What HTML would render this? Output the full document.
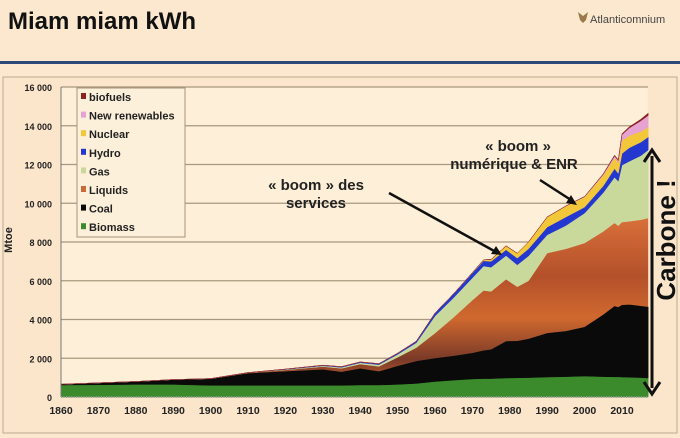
<!DOCTYPE html>
<html><head><meta charset="utf-8"><style>
body{margin:0;width:680px;height:438px;overflow:hidden;background:#fbe8cf;font-family:"Liberation Sans",sans-serif;}
svg{position:absolute;left:0;top:0}
</style></head><body>
<svg id="c" width="680" height="438" viewBox="0 0 680 438">
<defs>
<linearGradient id="liq" x1="0" y1="0" x2="0" y2="1">
<stop offset="0" stop-color="#d8703a"/><stop offset="0.35" stop-color="#b4502a"/><stop offset="0.6" stop-color="#d0692f"/><stop offset="0.85" stop-color="#7a3a28"/><stop offset="1" stop-color="#c9602c"/>
</linearGradient>
</defs>
<text x="8" y="29" font-size="24" font-weight="bold" fill="#111">Miam miam kWh</text>
<g><path d="M578 12 l5 4 l5-4 l-2 8 l-3 3 l-3-3z" fill="#9a7a4a"/><text x="590" y="23" font-size="11" fill="#444">Atlanticomnium</text></g>
<rect x="0" y="61" width="680" height="3" fill="#2c4a78"/>
<rect x="3" y="77" width="674" height="356" fill="#fbe6cb" stroke="#bda98c" stroke-width="1"/>
<rect x="61" y="87" width="587" height="310" fill="#fdefd8"/>
<g id="grid"></g><g id="areas"></g><g id="axes"></g>
<g>
<rect x="77" y="88" width="108" height="149" fill="#fdf0da" stroke="#a8957a"/>
<g id="leg" font-size="11" font-weight="bold" fill="#222"></g>
</g>
<text transform="translate(12,240) rotate(-90)" font-size="11" font-weight="bold" text-anchor="middle" fill="#222">Mtoe</text>
<g>
<text x="316" y="190" font-size="15" font-weight="bold" text-anchor="middle" fill="#222">« boom » des</text>
<text x="316" y="208" font-size="15" font-weight="bold" text-anchor="middle" fill="#222">services</text>
<line x1="389" y1="193" x2="496" y2="252" stroke="#111" stroke-width="2.5"/>
<path d="M502 255 l-11-1 l5-8z" fill="#111"/>
</g>
<g>
<text x="518" y="151" font-size="15" font-weight="bold" text-anchor="middle" fill="#222">« boom »</text>
<text x="514" y="169" font-size="15" font-weight="bold" text-anchor="middle" fill="#222">numérique &amp; ENR</text>
<line x1="540" y1="180" x2="571" y2="200" stroke="#111" stroke-width="2.5"/>
<path d="M577 205 l-11-2 l5-8z" fill="#111"/>
</g>
<g>
<line x1="652" y1="156" x2="652" y2="388" stroke="#111" stroke-width="3"/>
<path d="M644 162 l8-12 l8 12" fill="none" stroke="#111" stroke-width="3"/>
<path d="M644 382 l8 12 l8-12" fill="none" stroke="#111" stroke-width="3"/>
</g>
<text transform="translate(675,240) rotate(-90)" font-size="26" font-weight="bold" text-anchor="middle" fill="#111">Carbone !</text>
<text x="95" y="450" font-size="15" font-weight="bold" fill="#222">Consommation d'énergie dans le monde 1860-2018, d'après J.M. Jancovici 2020</text>
</svg>
<script>
const years=[1860,1870,1880,1890,1900,1910,1920,1930,1935,1940,1945,1950,1955,1960,1965,1970,1973,1975,1979,1982,1985,1990,1995,2000,2005,2008,2009,2010,2012,2015,2017];
const biomass=[620,630,650,650,600,600,600,600,600,620,620,650,700,800,870,930,950,950,980,990,1000,1030,1050,1080,1050,1040,1040,1030,1020,1000,980];
const coal=[40,100,150,250,330,620,720,820,700,850,700,950,1150,1200,1250,1340,1450,1500,1900,1900,2000,2270,2350,2530,3200,3650,3600,3720,3750,3700,3670];
const liquids=[0,0,0,0,20,40,80,150,180,230,260,450,700,1300,2000,2730,3100,3000,3200,2800,3000,4130,4250,4340,4300,4300,4200,4280,4300,4450,4590];
const gas=[0,0,0,0,0,0,20,40,50,70,90,150,250,880,1010,1150,1260,1250,1220,1130,1280,940,1200,1540,2000,2350,2300,2940,3100,3300,3510];
const hydro=[0,0,0,0,0,0,20,30,35,40,50,60,80,150,200,250,270,300,300,350,370,400,440,310,350,450,400,600,700,700,670];
const nuclear=[0,0,0,0,0,0,0,0,0,0,0,0,0,0,5,20,50,100,200,250,350,520,560,520,550,550,550,670,620,550,510];
const newren=[0,0,0,0,0,0,0,0,0,0,0,0,0,0,0,0,0,0,0,0,0,0,10,20,50,100,110,300,400,550,600];
const biofuels=[0,0,0,0,0,0,0,0,0,0,0,0,0,0,0,0,0,0,0,0,0,0,0,10,20,40,45,50,60,80,120];
const yTicks=[0,2000,4000,6000,8000,10000,12000,14000,16000];
const xTicks=[1860,1870,1880,1890,1900,1910,1920,1930,1940,1950,1960,1970,1980,1990,2000,2010];
const series=[["Biomass",biomass,"#3b8a2c"],["Coal",coal,"#0a0a0a"],["Liquids",liquids,"url(#liq)"],["Gas",gas,"#c9d99c"],["Hydro",hydro,"#2438d0"],["Nuclear",nuclear,"#f2c83a"],["New renewables",newren,"#e6a2d0"],["biofuels",biofuels,"#8a2222"]];
const legCol={"Liquids":"#c86a3a"};
const NS="http://www.w3.org/2000/svg";
const X=y=>61+(y-1860)*3.74;
const Y=v=>397-v*310/16000;
function mk(t,a,p){const e=document.createElementNS(NS,t);for(const k in a)e.setAttribute(k,a[k]);p.appendChild(e);return e;}
const grid=document.getElementById('grid'),axes=document.getElementById('axes'),areas=document.getElementById('areas'),leg=document.getElementById('leg');
yTicks.forEach(v=>{
 if(v>0){const g=mk('line',{x1:61,x2:648,y1:Y(v),y2:Y(v),stroke:'#a8987e','stroke-width':1.2},grid);
 
 }
 const t=mk('text',{x:52,y:Y(v)+4,'font-size':9,'font-weight':'bold','text-anchor':'end',fill:'#222'},axes);t.textContent=v===0?'0':(v/1000)+' 000';
 
 
});
const ax=mk('line',{x1:61,x2:61,y1:87,y2:397,stroke:'#777','stroke-width':1},axes);


const bx=mk('line',{x1:61,x2:648,y1:397,y2:397,stroke:'#999','stroke-width':2,'stroke-dasharray':'1 1.5'},axes);


xTicks.forEach(y=>{const t=mk('text',{x:X(y),y:414,'font-size':10.5,'font-weight':'bold','text-anchor':'middle',fill:'#222'},axes);t.textContent=y;
 
 });
let base=years.map(()=>0);
series.forEach(([name,vals,col])=>{
 const top=base.map((b,i)=>b+vals[i]);
 let d='M'+years.map((y,i)=>X(y)+','+Y(top[i])).join('L');
 for(let i=years.length-1;i>=0;i--)d+='L'+X(years[i])+','+Y(base[i]);
 const p=mk('path',{d:d+'Z',fill:col,stroke:col.startsWith('url')?'none':col,'stroke-width':0.5},areas);
 
 
 base=top;
});
series.slice().reverse().forEach(([name,vals,col],i)=>{
 const y=101+i*18.6;
 const r=mk('rect',{x:81,y:y-8,width:5,height:6,fill:legCol[name]||col},leg);
 
 
 const t=mk('text',{x:89,y:y},leg);t.textContent=name;
 
 
});
</script>
</body></html>
